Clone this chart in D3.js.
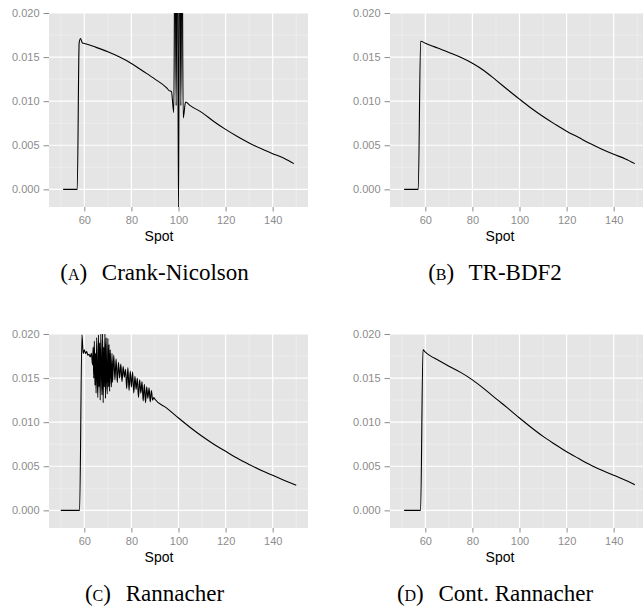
<!DOCTYPE html>
<html>
<head>
<meta charset="utf-8">
<script src="https://cdn.jsdelivr.net/npm/d3@7"></script>
<style>
  body { margin: 0; background: #fff; }
</style>
</head>
<body>
<script>
// axis breaks
var xTicks = [60, 80, 100, 120, 140];
var xMinor = [50, 70, 90, 110, 130, 150];
var yTicks = [0, 0.005, 0.010, 0.015, 0.020];
var yMinor = [0.0025, 0.0075, 0.0125, 0.0175];

// sub-captions
var captionLabels = ["A", "B", "C", "D"];
var captionNames = ["Crank-Nicolson", "TR-BDF2", "Rannacher", "Cont. Rannacher"];

// series, [spot, value]
var crankNicolson = [
  [51, 0], [57, 0], [57.8, 0.0166], [58.4, 0.0171], [59.2, 0.0166], [60, 0.01655],
  [65, 0.0161], [70, 0.0156], [75, 0.0150], [80, 0.01428], [85, 0.0134], [90, 0.0125],
  [95, 0.0115], [96, 0.0112], [97, 0.0111], [98, 0.0087], [98.5, 0.03], [99, 0.0095],
  [99.5, 0.035], [100, -0.003], [100.5, 0.035], [101, 0.0095], [101.5, 0.03], [102, 0.0081],
  [103, 0.0099], [105, 0.0095], [110, 0.0087], [115, 0.0077], [120, 0.0068], [125, 0.0060],
  [130, 0.00527], [135, 0.00462], [140, 0.00405], [145, 0.0035], [149, 0.00292]
];

var trBdf2 = [
  [51, 0], [57, 0], [58, 0.0168], [60, 0.01658], [65, 0.01605], [70, 0.01553], [75, 0.01498],
  [80, 0.0143], [85, 0.01345], [90, 0.01239], [95, 0.0113], [100, 0.01023], [105, 0.0092],
  [110, 0.00826], [115, 0.0074], [120, 0.00659], [125, 0.0059], [130, 0.00519],
  [135, 0.00455], [140, 0.00398], [145, 0.00345], [149, 0.00292]
];

var rannacher = [
  [50, 0], [58, 0], [59, 0.0199], [59.5, 0.0178], [60, 0.0182], [60.5, 0.0178], [61, 0.0180],
  [61.5, 0.0176], [62, 0.0177], [62.5, 0.0174], [63, 0.0178],
  [63.5, 0.0165], [63.75, 0.0185], [64, 0.0150], [64.25, 0.0192], [64.5, 0.0142], [64.75, 0.0178],
  [65, 0.0133], [65.25, 0.0196], [65.5, 0.0150], [65.75, 0.0128], [66, 0.0199], [66.25, 0.0140],
  [66.5, 0.0190], [66.75, 0.0125], [67, 0.0200], [67.25, 0.0160], [67.5, 0.0131], [67.75, 0.0200],
  [68, 0.0122], [68.25, 0.0185], [68.5, 0.0140], [68.75, 0.0200], [69, 0.0127], [69.25, 0.0196],
  [69.5, 0.0150], [69.75, 0.0132], [70, 0.0195], [70.25, 0.0140], [70.5, 0.0188], [70.75, 0.0135],
  [71, 0.0182], [71.25, 0.0158], [71.5, 0.0140], [71.75, 0.0178], [72, 0.0145],
  [72.5, 0.0176], [73, 0.0148], [73.5, 0.0172], [74, 0.0145], [74.5, 0.0168], [75, 0.0150],
  [75.5, 0.0166], [76, 0.0146], [76.5, 0.0163], [77, 0.0151], [77.5, 0.0160], [78, 0.0138],
  [78.5, 0.0162], [79, 0.0136], [79.5, 0.0158], [80, 0.0140], [80.5, 0.0157], [81, 0.0133],
  [81.5, 0.0152], [82, 0.0137], [82.5, 0.0150], [83, 0.0128], [83.5, 0.0148], [84, 0.0133],
  [84.5, 0.0146], [85, 0.0124], [85.5, 0.0143], [86, 0.0122], [86.5, 0.0140], [87, 0.0127],
  [87.5, 0.0139], [88, 0.0123], [88.5, 0.0136], [89, 0.0125], [89.5, 0.0128],
  [90, 0.0126], [95, 0.0116], [100, 0.01047], [105, 0.0094], [110, 0.0084], [115, 0.0075],
  [120, 0.0067], [125, 0.0059], [130, 0.0052], [135, 0.00455], [140, 0.00397], [145, 0.0034],
  [150, 0.00284]
];

var contRannacher = [
  [51, 0], [58, 0], [59, 0.0182], [60, 0.01795], [62, 0.01755], [65, 0.0171], [70, 0.01635],
  [75, 0.01565], [80, 0.0148], [85, 0.01378], [90, 0.01267], [95, 0.0116], [100, 0.01047],
  [105, 0.0094], [110, 0.00839], [115, 0.0075], [120, 0.00665], [125, 0.0059], [130, 0.00518],
  [135, 0.00455], [140, 0.00397], [145, 0.00342], [149, 0.00291]
];

var series = [crankNicolson, trBdf2, rannacher, contRannacher];

// layout
var width = 643, height = 612;
var panelW = 259, panelH = 194;
var colX = [49, 390], rowY = [13, 334];
var capX = [154.5, 495];
var sansFont = "'Liberation Sans', Arial, Helvetica, sans-serif";
var serifFont = "'Liberation Serif', 'Times New Roman', serif";

var svg = d3.select("body").append("svg")
    .attr("width", width)
    .attr("height", height);

svg.append("rect").attr("width", width).attr("height", height).attr("fill", "#fff");

var x = d3.scaleLinear().domain([45, 155]).range([0, panelW]);
var y = d3.scaleLinear().domain([-0.002, 0.020]).range([panelH, 0]);

var line = d3.line()
    .curve(d3.curveMonotoneX)
    .x(function(d) { return x(d[0]); })
    .y(function(d) { return y(d[1]); });

series.forEach(function(data, i) {
  var col = i % 2, row = Math.floor(i / 2);
  var g = svg.append("g")
      .attr("transform", "translate(" + colX[col] + "," + rowY[row] + ")");

  // 1. grey panel
  g.append("rect")
      .attr("width", panelW)
      .attr("height", panelH)
      .attr("fill", "#e5e5e5");

  // 2. minor grid, then major grid
  g.selectAll(".vminor").data(xMinor).enter().append("line")
      .attr("x1", function(d) { return x(d); }).attr("x2", function(d) { return x(d); })
      .attr("y1", 0).attr("y2", panelH)
      .attr("stroke", "#f2f2f2").attr("stroke-width", 0.6);
  g.selectAll(".hminor").data(yMinor).enter().append("line")
      .attr("y1", function(d) { return y(d); }).attr("y2", function(d) { return y(d); })
      .attr("x1", 0).attr("x2", panelW)
      .attr("stroke", "#f2f2f2").attr("stroke-width", 0.6);
  g.selectAll(".vmajor").data(xTicks).enter().append("line")
      .attr("x1", function(d) { return x(d); }).attr("x2", function(d) { return x(d); })
      .attr("y1", 0).attr("y2", panelH)
      .attr("stroke", "#fff").attr("stroke-width", 1.2);
  g.selectAll(".hmajor").data(yTicks).enter().append("line")
      .attr("y1", function(d) { return y(d); }).attr("y2", function(d) { return y(d); })
      .attr("x1", 0).attr("x2", panelW)
      .attr("stroke", "#fff").attr("stroke-width", 1.2);

  // 3. the curve, clipped to the panel
  g.append("clipPath").attr("id", "clip" + i)
    .append("rect").attr("width", panelW).attr("height", panelH);
  g.append("path")
      .datum(data)
      .attr("clip-path", "url(#clip" + i + ")")
      .attr("fill", "none")
      .attr("stroke", "#000")
      .attr("stroke-width", 1.1)
      .attr("stroke-linejoin", "round")
      .attr("d", line);

  // 4. axes
  var ya = g.append("g")
      .call(d3.axisLeft(y).tickValues(yTicks).tickFormat(d3.format(".3f")).tickSize(5.5).tickPadding(4));
  var xa = g.append("g")
      .attr("transform", "translate(0," + panelH + ")")
      .call(d3.axisBottom(x).tickValues(xTicks).tickSize(4.5).tickPadding(4.5));
  [ya, xa].forEach(function(a) {
    a.select(".domain").remove();
    a.attr("font-family", null).attr("font-size", null);
    a.selectAll(".tick line").attr("stroke", "#8c8c8c");
    a.selectAll(".tick text")
        .attr("fill", "#8c8c8c")
        .style("font-family", sansFont)
        .style("font-size", "11px");
  });

  // 5. axis title
  g.append("text")
      .attr("x", 110)
      .attr("y", panelH + 34)
      .attr("text-anchor", "middle")
      .attr("fill", "#000")
      .style("font-family", sansFont)
      .style("font-size", "14px")
      .text("Spot");

  // 6. sub-caption
  var cap = svg.append("text")
      .attr("x", capX[col])
      .attr("y", rowY[row] + panelH + 73)
      .attr("text-anchor", "middle")
      .attr("fill", "#000")
      .style("font-family", serifFont)
      .style("font-size", "23px");
  cap.append("tspan").text("(");
  cap.append("tspan").style("font-size", "16px").text(captionLabels[i]);
  cap.append("tspan").text(")");
  cap.append("tspan").attr("dx", 9).text(" " + captionNames[i]);
});
</script>
</body>
</html>
